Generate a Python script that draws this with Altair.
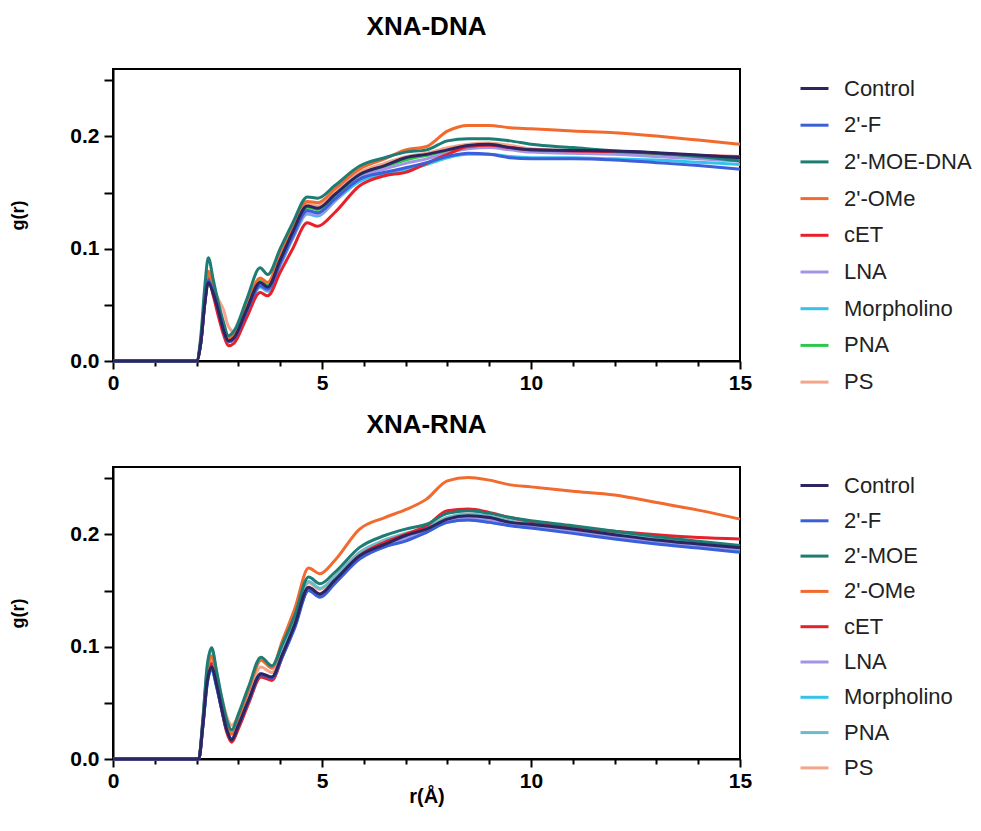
import altair as alt
import pandas as pd

# ---------------- data ----------------
DNA_NAMES = ["Control", "2'-F", "2'-MOE-DNA", "2'-OMe", "cET", "LNA", "Morpholino", "PNA", "PS"]
RNA_NAMES = ["Control", "2'-F", "2'-MOE", "2'-OMe", "cET", "LNA", "Morpholino", "PNA", "PS"]

DNA_COLORS = ["#2b2560", "#3a5fd9", "#1d7c74", "#f26a2e", "#e8202a", "#a394e6", "#33c3ec", "#2cc84a", "#f4a58a"]
RNA_COLORS = ["#2b2560", "#3a5fd9", "#1d7c74", "#f26a2e", "#e8202a", "#a394e6", "#33c3ec", "#6bbcc8", "#f4a58a"]

R_DNA = [0, 2.0, 2.1, 2.2, 2.28, 2.4, 2.52, 2.64, 2.76, 2.9, 3.2, 3.52, 3.7, 4.0, 4.3, 4.65, 4.9,
         5.3, 5.9, 6.5, 7.0, 7.5, 8.0, 8.5, 9.0, 9.5, 10.0, 11.0, 12.0, 13.0, 14.0, 15.0]

dna_control = [0, 0, 0.016, 0.052, 0.070, 0.060, 0.045, 0.028, 0.018, 0.021, 0.046, 0.070, 0.066, 0.090, 0.115, 0.138, 0.136,
               0.148, 0.166, 0.174, 0.181, 0.184, 0.188, 0.192, 0.193, 0.190, 0.188, 0.1875, 0.187, 0.1855, 0.1835, 0.181]
dna_f = [0, 0, 0.016, 0.053, 0.072, 0.061, 0.045, 0.028, 0.017, 0.020, 0.044, 0.067, 0.064, 0.087, 0.111, 0.134, 0.132,
         0.144, 0.162, 0.168, 0.172, 0.1766, 0.182, 0.185, 0.184, 0.181, 0.180, 0.180, 0.179, 0.1766, 0.174, 0.1707]
dna_moe = [0, 0, 0.022, 0.068, 0.092, 0.072, 0.052, 0.035, 0.0225, 0.027, 0.055, 0.083, 0.077, 0.100, 0.123, 0.146, 0.145,
           0.156, 0.1736, 0.181, 0.186, 0.188, 0.196, 0.198, 0.198, 0.196, 0.193, 0.190, 0.187, 0.185, 0.182, 0.178]
dna_ome = [0, 0, 0.018, 0.058, 0.080, 0.065, 0.048, 0.031, 0.020, 0.024, 0.050, 0.074, 0.070, 0.095, 0.120, 0.142, 0.141,
           0.153, 0.171, 0.180, 0.188, 0.191, 0.2047, 0.2098, 0.2098, 0.2077, 0.2068, 0.2047, 0.2032, 0.2003, 0.1967, 0.1929]
dna_cet = [0, 0, 0.016, 0.054, 0.073, 0.058, 0.040, 0.024, 0.0136, 0.016, 0.039, 0.061, 0.058, 0.079, 0.100, 0.123, 0.120,
           0.132, 0.156, 0.165, 0.168, 0.176, 0.184, 0.191, 0.192, 0.190, 0.188, 0.187, 0.1865, 0.185, 0.183, 0.182]
dna_lna = [0, 0, 0.016, 0.053, 0.072, 0.060, 0.044, 0.027, 0.017, 0.020, 0.044, 0.067, 0.063, 0.086, 0.110, 0.132, 0.130,
           0.143, 0.163, 0.171, 0.176, 0.180, 0.185, 0.189, 0.190, 0.188, 0.186, 0.185, 0.184, 0.182, 0.180, 0.178]
dna_morph = [0, 0, 0.016, 0.053, 0.072, 0.060, 0.044, 0.027, 0.017, 0.020, 0.043, 0.066, 0.062, 0.085, 0.109, 0.131, 0.129,
             0.142, 0.160, 0.166, 0.170, 0.175, 0.181, 0.184, 0.184, 0.182, 0.181, 0.181, 0.180, 0.179, 0.177, 0.175]
dna_pna = [0, 0, 0.017, 0.055, 0.075, 0.062, 0.046, 0.029, 0.018, 0.022, 0.047, 0.071, 0.067, 0.091, 0.115, 0.137, 0.135,
           0.147, 0.165, 0.173, 0.179, 0.183, 0.187, 0.190, 0.191, 0.189, 0.187, 0.186, 0.185, 0.184, 0.182, 0.180]
dna_ps = [0, 0, 0.018, 0.058, 0.078, 0.066, 0.055, 0.046, 0.031, 0.026, 0.048, 0.072, 0.068, 0.092, 0.117, 0.140, 0.138,
          0.150, 0.168, 0.176, 0.182, 0.185, 0.190, 0.193, 0.194, 0.192, 0.189, 0.187, 0.186, 0.185, 0.183, 0.181]

R_RNA = [0, 2.05, 2.15, 2.25, 2.36, 2.48, 2.6, 2.72, 2.84, 3.0, 3.25, 3.54, 3.8, 4.05, 4.35, 4.68, 4.95,
         5.3, 5.9, 6.5, 7.0, 7.5, 8.0, 8.5, 9.0, 9.5, 10.0, 11.0, 12.0, 13.0, 14.0, 15.0]

rna_control = [0, 0, 0.030, 0.068, 0.082, 0.066, 0.045, 0.026, 0.017, 0.030, 0.053, 0.076, 0.073, 0.093, 0.120, 0.153, 0.147,
               0.159, 0.181, 0.191, 0.199, 0.2047, 0.2136, 0.2166, 0.215, 0.2107, 0.209, 0.2047, 0.1997, 0.195, 0.1914, 0.188]
rna_f = [0, 0, 0.029, 0.066, 0.080, 0.064, 0.044, 0.026, 0.018, 0.030, 0.052, 0.075, 0.072, 0.091, 0.117, 0.150, 0.144,
         0.156, 0.178, 0.189, 0.194, 0.2018, 0.2107, 0.2127, 0.2107, 0.2077, 0.2056, 0.2009, 0.1958, 0.1914, 0.1878, 0.184]
rna_moe = [0, 0, 0.036, 0.082, 0.099, 0.078, 0.055, 0.035, 0.026, 0.040, 0.065, 0.0907, 0.083, 0.102, 0.128, 0.162, 0.156,
           0.166, 0.1884, 0.199, 0.2047, 0.209, 0.2187, 0.221, 0.2187, 0.215, 0.2121, 0.2077, 0.2027, 0.198, 0.1938, 0.190]
rna_ome = [0, 0, 0.033, 0.076, 0.092, 0.072, 0.050, 0.031, 0.022, 0.036, 0.062, 0.088, 0.081, 0.105, 0.134, 0.170, 0.165,
           0.1765, 0.2047, 0.215, 0.222, 0.2314, 0.2477, 0.2507, 0.2483, 0.2441, 0.2423, 0.2385, 0.235, 0.2284, 0.2216, 0.2136]
rna_cet = [0, 0, 0.031, 0.070, 0.085, 0.066, 0.044, 0.024, 0.015, 0.027, 0.050, 0.073, 0.070, 0.091, 0.119, 0.151, 0.146,
           0.158, 0.181, 0.193, 0.200, 0.2077, 0.221, 0.2225, 0.2196, 0.215, 0.2116, 0.2068, 0.2027, 0.1997, 0.1973, 0.196]
rna_lna = [0, 0, 0.030, 0.067, 0.081, 0.065, 0.045, 0.026, 0.017, 0.030, 0.053, 0.076, 0.073, 0.092, 0.119, 0.152, 0.146,
           0.158, 0.180, 0.190, 0.197, 0.203, 0.212, 0.215, 0.213, 0.209, 0.207, 0.203, 0.198, 0.194, 0.190, 0.187]
rna_morph = [0, 0, 0.029, 0.066, 0.080, 0.064, 0.044, 0.026, 0.018, 0.030, 0.052, 0.075, 0.072, 0.091, 0.118, 0.150, 0.145,
             0.157, 0.179, 0.189, 0.195, 0.202, 0.211, 0.213, 0.211, 0.208, 0.206, 0.202, 0.197, 0.193, 0.189, 0.186]
rna_pna = [0, 0, 0.035, 0.080, 0.098, 0.076, 0.053, 0.033, 0.024, 0.038, 0.063, 0.088, 0.081, 0.099, 0.125, 0.158, 0.152,
           0.162, 0.184, 0.195, 0.201, 0.206, 0.215, 0.218, 0.216, 0.212, 0.210, 0.206, 0.201, 0.196, 0.192, 0.189]
rna_ps = [0, 0, 0.032, 0.074, 0.088, 0.072, 0.055, 0.038, 0.030, 0.038, 0.058, 0.082, 0.077, 0.096, 0.123, 0.157, 0.151,
          0.162, 0.184, 0.194, 0.200, 0.206, 0.215, 0.218, 0.216, 0.212, 0.210, 0.205, 0.200, 0.196, 0.192, 0.189]

DNA_SERIES = [dna_control, dna_f, dna_moe, dna_ome, dna_cet, dna_lna, dna_morph, dna_pna, dna_ps]
RNA_SERIES = [rna_control, rna_f, rna_moe, rna_ome, rna_cet, rna_lna, rna_morph, rna_pna, rna_ps]

FONT = "Liberation Sans"


def make_df(r, names, series):
    rows = []
    # reverse order so that Control is drawn last (on top)
    for name, vals in reversed(list(zip(names, series))):
        for x, y in zip(r, vals):
            rows.append({"r": x, "g": y, "series": name})
    return pd.DataFrame(rows)


def panel(df, names, colors, title, xtitle, legend_y, row_pad):
    x_axis_kwargs = dict(
        values=list(range(16)),
        labelExpr="datum.value % 5 === 0 ? datum.label : ''",
        tickSize={"condition": {"test": "datum.value % 5 === 0", "value": 8}, "value": 5},
        tickWidth=2, tickColor="black",
        domainColor="black", domainWidth=2,
        labelFont=FONT, labelFontSize=21, labelFontWeight="bold", labelColor="black",
        labelPadding=3, labelFlush=False, grid=False,
        titleFont=FONT, titleFontSize=20, titleFontWeight="bold", titleColor="black",
        titleY=43, titleBaseline="alphabetic",
    )
    if xtitle:
        x_axis = alt.Axis(title=xtitle, **x_axis_kwargs)
    else:
        x_axis = alt.Axis(title=None, **x_axis_kwargs)

    y_axis = alt.Axis(
        title="g(r)",
        values=[0, 0.05, 0.1, 0.15, 0.2, 0.25],
        labelExpr="(round(datum.value * 100) % 10 === 0) ? format(datum.value, '.1f') : ''",
        tickSize=9, tickWidth=2, tickColor="black",
        domainColor="black", domainWidth=2,
        labelFont=FONT, labelFontSize=21, labelFontWeight="bold", labelColor="black",
        labelPadding=5, labelFlush=False, grid=False,
        titleFont=FONT, titleFontSize=18, titleFontWeight="bold", titleColor="black",
        titlePadding=42,
    )

    return alt.Chart(df).mark_line(strokeWidth=3, interpolate="monotone").encode(
        x=alt.X("r:Q", scale=alt.Scale(domain=[0, 15], nice=False, zero=False), axis=x_axis),
        y=alt.Y("g:Q", scale=alt.Scale(domain=[0, 0.26], nice=False), axis=y_axis),
        color=alt.Color(
            "series:N",
            scale=alt.Scale(domain=names, range=colors),
            legend=alt.Legend(
                title=None, orient="none", legendX=686, legendY=legend_y,
                symbolType="stroke", symbolSize=784, symbolStrokeWidth=3,
                labelFont=FONT, labelFontSize=22, labelColor="#222222",
                labelOffset=14, rowPadding=row_pad, padding=0,
            ),
        ),
    ).properties(
        width=627, height=292,
        title=alt.TitleParams(title, font=FONT, fontSize=26, fontWeight="bold",
                              color="black", anchor="middle", offset=29),
    )


top = panel(make_df(R_DNA, DNA_NAMES, DNA_SERIES), DNA_NAMES, DNA_COLORS, "XNA-DNA", None, 4, 9.7)
bottom = panel(make_df(R_RNA, RNA_NAMES, RNA_SERIES), RNA_NAMES, RNA_COLORS, "XNA-RNA", "r(Å)", 3, 8.3)

chart = alt.vconcat(top, bottom, spacing=16).resolve_scale(color="independent").configure_view(
    stroke="black", strokeWidth=2
).properties(background="white", padding={"left": 0, "top": 5, "right": 0, "bottom": 5})

chart.save("out.html", embed_options={"renderer": "svg", "actions": False})
